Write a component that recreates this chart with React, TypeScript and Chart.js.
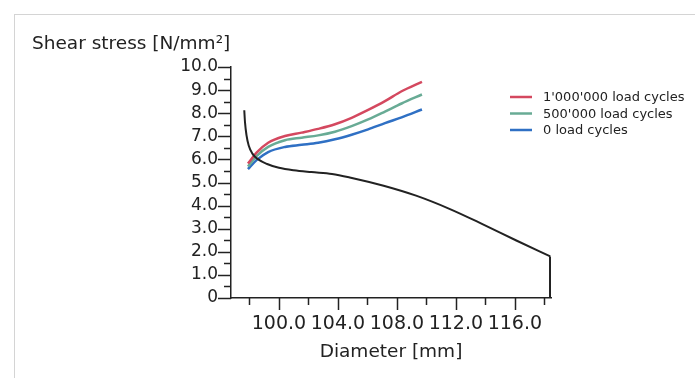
import React, { useEffect, useRef } from "react";
import { Chart, registerables } from "chart.js";

Chart.register(...registerables);

const yAxisTitle = "Shear stress [N/mm²]";
const xAxisTitle = "Diameter [mm]";

const xTickValues = [100, 104, 108, 112, 116];
const xMinorTicks = [98, 102, 106, 110, 114, 118];
const yTickValues = [0, 1, 2, 3, 4, 5, 6, 7, 8, 9, 10];

const stressX = [97.65, 97.7, 97.8, 97.95, 98.2, 98.6, 99.2, 100.0, 101.0, 102.2, 103.6, 104.8, 107.1, 109.3, 111.6, 113.8, 116.1, 118.4];
const stressY = [8.13, 7.6, 7.05, 6.6, 6.25, 6.0, 5.8, 5.64, 5.53, 5.45, 5.37, 5.22, 4.86, 4.43, 3.85, 3.2, 2.49, 1.8];
const edgeX = [118.4, 118.4];
const edgeY = [1.8, 0];

const cyclesX = [97.9, 98.5, 99.27, 100.41, 101.54, 102.66, 103.8, 104.93, 106.05, 107.19, 108.32, 109.7];
const cycles1M = [5.82, 6.3, 6.72, 7.01, 7.16, 7.32, 7.52, 7.8, 8.14, 8.52, 8.95, 9.36];
const cycles500k = [5.69, 6.15, 6.54, 6.83, 6.94, 7.04, 7.2, 7.44, 7.73, 8.07, 8.42, 8.81];
const cycles0 = [5.58, 5.98, 6.32, 6.54, 6.63, 6.72, 6.87, 7.07, 7.3, 7.57, 7.82, 8.16];

const seriesLabels = ["1'000'000 load cycles", "500'000 load cycles", "0 load cycles"];
const seriesColors = ["#d4485f", "#68ab95", "#2f70c4"];

const FONT = "'DejaVu Sans', Verdana, sans-serif";

const pts = (xs: number[], ys: number[]) => xs.map((x, i) => ({ x, y: ys[i] }));

const decorPlugin = {
  id: "decor",
  beforeDraw(chart: any) {
    const ctx = chart.ctx;
    ctx.save();
    ctx.fillStyle = "#ffffff";
    ctx.fillRect(0, 0, chart.width, chart.height);
    ctx.strokeStyle = "#d4d4d4";
    ctx.lineWidth = 1;
    ctx.strokeRect(14.5, 14.5, chart.width - 8, chart.height + 10);
    ctx.restore();
  },
  afterDraw(chart: any) {
    const ctx = chart.ctx;
    const xs = chart.scales.x;
    const ys = chart.scales.y;
    const area = chart.chartArea;
    ctx.save();
    ctx.strokeStyle = "#222";
    ctx.lineWidth = 1.5;
    for (let v = 0; v <= 10.001; v += 0.5) {
      const py = Math.round(ys.getPixelForValue(v)) + 0.5;
      const major = Math.abs(v - Math.round(v)) < 1e-6;
      ctx.beginPath();
      ctx.moveTo(area.left - (major ? 13 : 7), py);
      ctx.lineTo(area.left, py);
      ctx.stroke();
    }
    const allX = [...xTickValues, ...xMinorTicks];
    allX.forEach((v) => {
      const px = Math.round(xs.getPixelForValue(v)) + 0.5;
      const major = xTickValues.includes(v);
      ctx.beginPath();
      ctx.moveTo(px, area.bottom);
      ctx.lineTo(px, area.bottom + (major ? 12 : 7));
      ctx.stroke();
    });
    ctx.fillStyle = "#222";
    ctx.font = `18.5px ${FONT}`;
    ctx.textAlign = "left";
    ctx.textBaseline = "alphabetic";
    ctx.fillText(yAxisTitle, 32, 48.5);
    ctx.textAlign = "center";
    ctx.fillText(xAxisTitle, (area.left + area.right) / 2, 357);
    ctx.textAlign = "left";
    ctx.font = `13px ${FONT}`;
    ctx.textBaseline = "middle";
    const rows = [97, 113.5, 130];
    const dsets = chart.data.datasets.slice(1, 4);
    dsets.forEach((ds: any, i: number) => {
      ctx.strokeStyle = ds.borderColor;
      ctx.lineWidth = 2.5;
      ctx.beginPath();
      ctx.moveTo(510, rows[i]);
      ctx.lineTo(532, rows[i]);
      ctx.stroke();
      ctx.fillStyle = "#222";
      ctx.fillText(ds.label, 543, rows[i] + 1);
    });
    ctx.restore();
  },
};

export default function App() {
  const ref = useRef<HTMLCanvasElement | null>(null);
  useEffect(() => {
    document.body.style.margin = "0";
    const canvas = ref.current!;
    const line = (label: string, xs: number[], ys: number[], color: string, width: number) => ({
      label,
      data: pts(xs, ys),
      borderColor: color,
      borderWidth: width,
      showLine: true,
      pointRadius: 0,
      cubicInterpolationMode: "monotone" as const,
    });
    const chart = new Chart(canvas, {
      type: "scatter",
      data: {
        datasets: [
          line("stress", stressX, stressY, "#222222", 2),
          line(seriesLabels[0], cyclesX, cycles1M, seriesColors[0], 2.5),
          line(seriesLabels[1], cyclesX, cycles500k, seriesColors[1], 2.5),
          line(seriesLabels[2], cyclesX, cycles0, seriesColors[2], 2.5),
          { ...line("stress edge", edgeX, edgeY, "#222222", 2.5), cubicInterpolationMode: "default" as const, tension: 0 },
        ],
      },
      options: {
        animation: false,
        responsive: false,
        devicePixelRatio: 1,
        layout: { padding: { left: 0, right: 144, top: 67, bottom: 0 } },
        plugins: { legend: { display: false }, tooltip: { enabled: false } },
        scales: {
          x: {
            type: "linear",
            min: 96.75,
            max: 118.45,
            grid: { display: false, drawTicks: false },
            border: { display: true, color: "#222", width: 1.5 },
            afterBuildTicks: (scale: any) => {
              scale.ticks = xTickValues.map((v) => ({ value: v }));
            },
            afterFit: (scale: any) => {
              scale.height = 80;
            },
            ticks: {
              autoSkip: false,
              maxRotation: 0,
              padding: 15,
              color: "#222",
              font: { family: FONT, size: 19 },
              callback: (v: any) => Number(v).toFixed(1),
            },
          },
          y: {
            type: "linear",
            min: 0,
            max: 10,
            grid: { display: false, drawTicks: false },
            border: { display: true, color: "#222", width: 1.5 },
            afterBuildTicks: (scale: any) => {
              scale.ticks = yTickValues.map((v) => ({ value: v }));
            },
            afterFit: (scale: any) => {
              scale.width = 231;
            },
            ticks: {
              autoSkip: false,
              padding: 13,
              color: "#222",
              font: { family: FONT, size: 17 },
              callback: (v: any) => (Number(v) === 0 ? "0" : Number(v).toFixed(1)),
            },
          },
        },
      },
      plugins: [decorPlugin],
    });
    return () => chart.destroy();
  }, []);
  return <canvas ref={ref} width={695} height={378} style={{ display: "block" }} />;
}
